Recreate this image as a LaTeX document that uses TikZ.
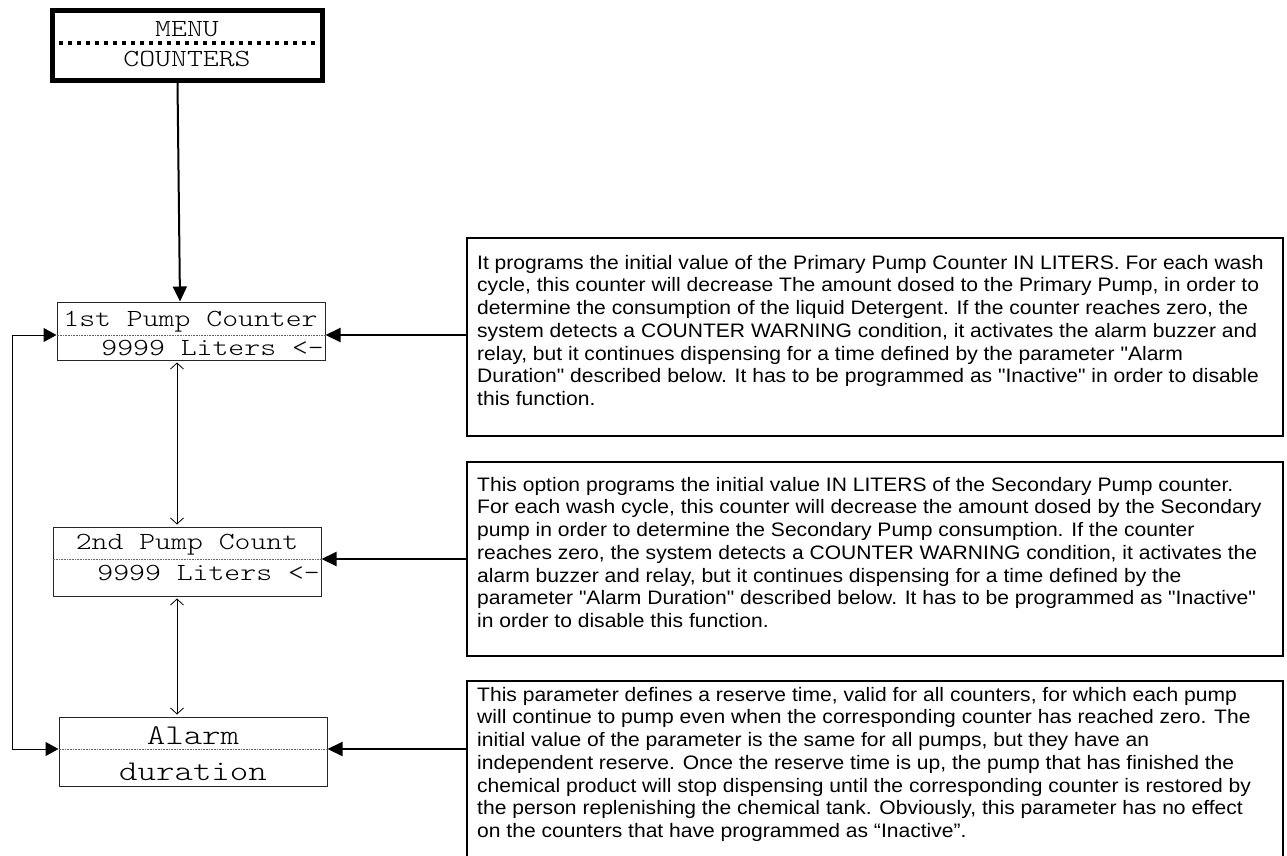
\documentclass[tikz,border=0pt]{standalone}
\usepackage{fontspec}
\setmainfont{Liberation Sans}
\newfontfamily\notefont{Liberation Sans}[FakeStretch=1.08]
\newfontfamily\lcdfont{lmmonolt10-regular.otf}[FakeStretch=1.23]
\usetikzlibrary{arrows.meta,calc}

\tikzset{
  lcdbox/.style={draw=black!85, line width=1pt, minimum width=268pt, inner sep=0pt},
  lcdtext/.style={font=\lcdfont\fontsize{24.6}{28}\selectfont, inner sep=0pt},
  bigtext/.style={font=\lcdfont\fontsize{28.6}{32}\selectfont, inner sep=0pt},
  notebox/.style={draw, line width=2pt, minimum width=816pt, inner sep=0pt},
  notetext/.style={font={\notefont\fontsize{19.5}{22.7}\selectfont\lineskiplimit=-20pt\relax},
                   align=left, inner sep=0pt, anchor=north west},
  sepline/.style={black!60, line width=0.6pt, densely dotted},
  feed/.style={line width=2pt, -{Triangle[length=15pt,width=14pt]}},
  nav/.style={line width=0.8pt, {Straight Barb[length=6pt,width=13pt]}-{Straight Barb[length=6pt,width=13pt]}},
  wrap/.style={line width=1pt, {Triangle[length=13pt,width=14pt]}-{Triangle[length=13pt,width=14pt]}},
}
% fixed height for the first line of each panel, so its baseline sits 15pt below the top
\newcommand\firstline{\rule{0pt}{15pt}}

\begin{document}
\begin{tikzpicture}[x=1pt,y=-1pt]
\useasboundingbox (0,0) rectangle (1287,856);

% menu header
\node[draw, line width=5pt, minimum width=270pt, minimum height=70pt, inner sep=0pt]
  (menu) at (187.5,45.5) {};
\draw[line width=4pt, dash pattern=on 4pt off 5pt] (menu.west |- 0,43) -- (menu.east |- 0,43);
\node[lcdtext, anchor=base] (menut) at (187,37) {MENU};
\node[lcdtext, anchor=base] (menuc) at (187,67) {COUNTERS};

% display screens
\node[lcdbox, minimum height=58pt] (b1) at (191,331) {};
\coordinate (s1) at (0,335);
\draw[sepline] (b1.west |- s1) -- (b1.east |- s1);
\node[lcdtext, anchor=base] (b1a) at (190.5,326) {1st Pump Counter};
\node[lcdtext, anchor=base east] (b1b) at (324,355) {9999 Liters <-};

\node[lcdbox, minimum height=69pt] (b2) at (187,561.5) {};
\coordinate (s2) at (0,559);
\draw[sepline] (b2.west |- s2) -- (b2.east |- s2);
\node[lcdtext, anchor=base] (b2a) at (187,549) {2nd Pump Count};
\node[lcdtext, anchor=base east] (b2b) at (320,580) {9999 Liters <-};

\node[lcdbox, minimum height=69pt] (b3) at (193,751.5) {};
\coordinate (s3) at (0,749);
\draw[sepline] (b3.west |- s3) -- (b3.east |- s3);
\node[bigtext, anchor=base] (b3a) at (193,744) {Alarm};
\node[bigtext, anchor=base] (b3b) at (193,780) {duration};

% description panels
\node[notebox, minimum height=198pt] (t1) at (875,337) {};
\node[notetext] (t1x) at (477,254) {\firstline It programs the initial value of the Primary Pump Counter IN LITERS. For each wash\\
cycle, this counter will decrease The amount dosed to the Primary Pump, in order to\\
determine the consumption of the liquid Detergent. If the counter reaches zero, the\\
system detects a COUNTER WARNING condition, it activates the alarm buzzer and\\
relay, but it continues dispensing for a time defined by the parameter "Alarm\\
Duration" described below. It has to be programmed as "Inactive" in order to disable\\
this function.};

\node[notebox, minimum height=194pt] (t2) at (875,559) {};
\node[notetext] (t2x) at (477,476) {\firstline This option programs the initial value IN LITERS of the Secondary Pump counter.\\
For each wash cycle, this counter will decrease the amount dosed by the Secondary\\
pump in order to determine the Secondary Pump consumption. If the counter\\
reaches zero, the system detects a COUNTER WARNING condition, it activates the\\
alarm buzzer and relay, but it continues dispensing for a time defined by the\\
parameter "Alarm Duration" described below. It has to be programmed as "Inactive"\\
in order to disable this function.};

\node[notebox, minimum height=190pt] (t3) at (875,776) {};
\node[notetext] (t3x) at (477,686) {\firstline This parameter defines a reserve time, valid for all counters, for which each pump\\
will continue to pump even when the corresponding counter has reached zero. The\\
initial value of the parameter is the same for all pumps, but they have an\\
independent reserve. Once the reserve time is up, the pump that has finished the\\
chemical product will stop dispensing until the corresponding counter is restored by\\
the person replenishing the chemical tank. Obviously, this parameter has no effect\\
on the counters that have programmed as “Inactive”.};

% connectors
\draw[feed] ($(menu.south)+(-10,0)$) -- ($(b1.north)+(-11,0)$);
\draw[feed] (t1.west |- s1) -- (b1.east |- s1);
\draw[feed] (t2.west |- s2) -- (b2.east |- s2);
\draw[feed] (t3.west |- s3) -- (b3.east |- s3);
\coordinate (n1) at (177,0);
\draw[nav, shorten <=2pt, shorten >=2pt] (b1.south -| n1) -- (b2.north -| n1);
\draw[nav, shorten <=2pt, shorten >=2pt] (b2.south -| n1) -- (b3.north -| n1);
\coordinate (wt) at (12,335);
\coordinate (wb) at (12,749);
\draw[wrap] (b1.west |- s1) -- (wt) -- (wb) -- (b3.west |- s3);
\end{tikzpicture}
\end{document}
